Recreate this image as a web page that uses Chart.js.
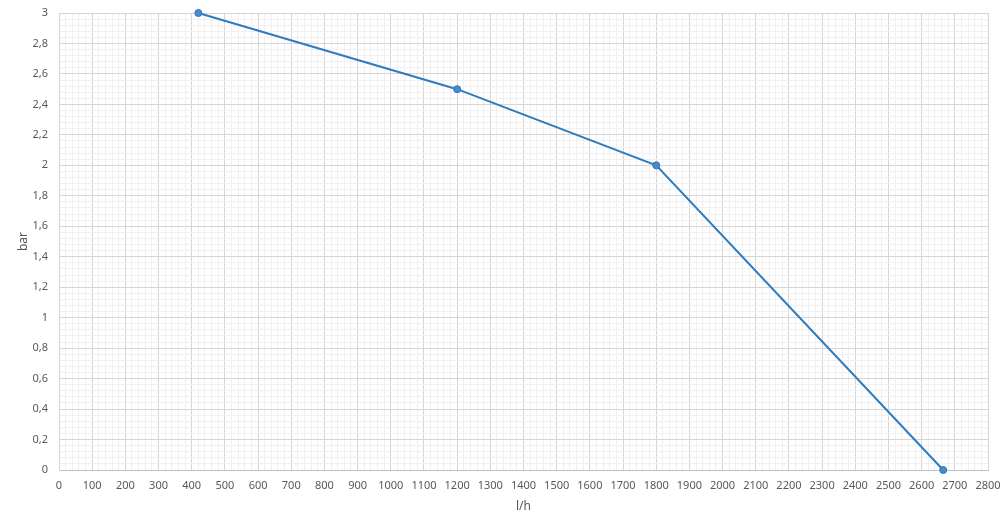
<!DOCTYPE html>
<html>
<head>
<meta charset="utf-8">
<script src="https://cdn.jsdelivr.net/npm/chart.js@4/dist/chart.umd.min.js"></script>
<style>
  body { margin: 0; background: #fff; }
  canvas { display: block; }
</style>
</head>
<body>
<canvas id="pumpChart" width="1002" height="519"></canvas>
<script>
// curve points (l/h -> bar)
const flow = [420, 1200, 1800, 2665];
const pressure = [3, 2.5, 2, 0];

// major ticks
const xTicks = [0, 100, 200, 300, 400, 500, 600, 700, 800, 900, 1000, 1100, 1200, 1300,
  1400, 1500, 1600, 1700, 1800, 1900, 2000, 2100, 2200, 2300, 2400, 2500, 2600, 2700, 2800];
const yTicks = [0, 0.2, 0.4, 0.6, 0.8, 1, 1.2, 1.4, 1.6, 1.8, 2, 2.2, 2.4, 2.6, 2.8, 3];
const yTickLabels = ["0", "0,2", "0,4", "0,6", "0,8", "1", "1,2", "1,4", "1,6", "1,8",
  "2", "2,2", "2,4", "2,6", "2,8", "3"];

// minor grid: 5 divisions between majors
function withMinor(major) {
  const out = [];
  for (let i = 0; i < major.length - 1; i++) {
    const a = major[i], b = major[i + 1];
    for (let k = 0; k < 5; k++) out.push(+(a + (b - a) * k / 5).toFixed(6));
  }
  out.push(major[major.length - 1]);
  return out;
}
const xGrid = withMinor(xTicks);
const yGrid = withMinor(yTicks);

function isMajor(list, v) {
  return list.some(t => Math.abs(t - v) < 1e-6);
}

const labelFont = { family: "'Noto Sans', sans-serif", size: 11 };

new Chart(document.getElementById("pumpChart"), {
  type: "line",
  data: {
    datasets: [{
      data: flow.map((x, i) => ({ x: x, y: pressure[i] })),
      borderColor: "#2e7bbf",
      borderWidth: 2,
      pointRadius: 3.5,
      pointBackgroundColor: "#4a8ccb",
      pointBorderColor: "#2e75b6",
      pointBorderWidth: 1,
      fill: false,
      tension: 0,
      clip: false
    }]
  },
  options: {
    responsive: false,
    animation: false,
    layout: { padding: { top: 13, right: 14, left: 0, bottom: 0 } },
    plugins: {
      legend: { display: false },
      tooltip: { enabled: false }
    },
    scales: {
      x: {
        type: "linear",
        min: 0,
        max: 2800,
        afterBuildTicks: axis => { axis.ticks = xGrid.map(v => ({ value: v })); },
        afterFit: scale => {
          scale.height = 49;
          scale.paddingLeft = 0;
          scale.paddingRight = 0;
        },
        ticks: {
          autoSkip: false,
          maxRotation: 0,
          padding: 9,
          color: "#595959",
          font: labelFont,
          callback: v => isMajor(xTicks, v) ? String(v) : ""
        },
        grid: {
          drawTicks: false,
          color: c => isMajor(xTicks, c.tick.value) ? "#d6d6d6" : "#f0f0f0"
        },
        border: { color: "#bfbfbf" },
        title: {
          display: true,
          text: "l/h",
          color: "#595959",
          font: { family: "'Noto Sans', sans-serif", size: 12 },
          padding: { top: 0, bottom: 5 }
        }
      },
      y: {
        min: 0,
        max: 3,
        afterBuildTicks: axis => { axis.ticks = yGrid.map(v => ({ value: v })); },
        afterFit: scale => {
          scale.width = 59;
          scale.paddingTop = 0;
          scale.paddingBottom = 0;
        },
        ticks: {
          autoSkip: false,
          padding: 11,
          color: "#595959",
          font: labelFont,
          callback: v => {
            const i = yTicks.findIndex(t => Math.abs(t - v) < 1e-6);
            return i >= 0 ? yTickLabels[i] : "";
          }
        },
        grid: {
          drawTicks: false,
          color: c => isMajor(yTicks, c.tick.value) ? "#d6d6d6" : "#f0f0f0"
        },
        border: { color: "#d6d6d6" },
        title: {
          display: true,
          text: "bar",
          color: "#595959",
          font: { family: "'Noto Sans', sans-serif", size: 12 },
          padding: { top: 16, bottom: 0 }
        }
      }
    }
  }
});
</script>
</body>
</html>
